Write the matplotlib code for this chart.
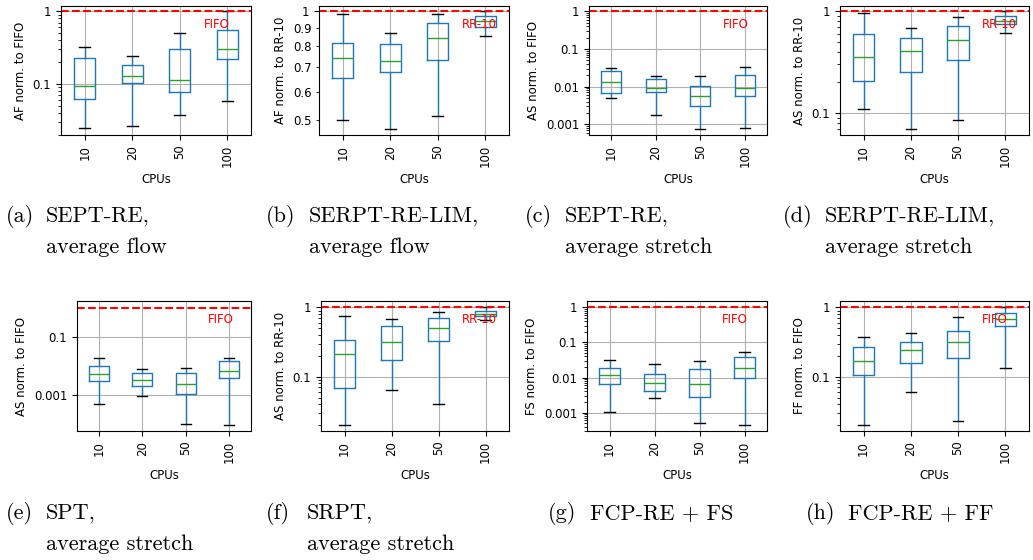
import numpy as np
import matplotlib
matplotlib.use("Agg")
import matplotlib.pyplot as plt
from matplotlib.ticker import FixedLocator, FuncFormatter, NullLocator, NullFormatter, LogLocator

cpus = ["10", "20", "50", "100"]

# five-number summaries per CPU count: low whisker, Q1, median, Q3, high whisker
a_lo = [0.0245, 0.0267, 0.037, 0.059]
a_q1 = [0.063, 0.102, 0.078, 0.223]
a_med = [0.093, 0.128, 0.114, 0.30]
a_q3 = [0.225, 0.185, 0.306, 0.55]
a_hi = [0.32, 0.24, 0.50, 1.0]

b_lo = [0.501, 0.475, 0.515, 0.857]
b_q1 = [0.655, 0.681, 0.734, 0.907]
b_med = [0.745, 0.731, 0.843, 0.943]
b_q3 = [0.818, 0.815, 0.931, 0.973]
b_hi = [0.981, 0.873, 0.983, 1.0]

c_lo = [0.0051, 0.00173, 0.00077, 0.0008]
c_q1 = [0.00665, 0.0072, 0.0030, 0.00565]
c_med = [0.0136, 0.0092, 0.00577, 0.00903]
c_q3 = [0.026, 0.0163, 0.0104, 0.0204]
c_hi = [0.0319, 0.0192, 0.0192, 0.034]

d_lo = [0.1087, 0.0701, 0.0847, 0.617]
d_q1 = [0.206, 0.253, 0.332, 0.75]
d_med = [0.356, 0.404, 0.519, 0.803]
d_q3 = [0.598, 0.551, 0.712, 0.90]
d_hi = [0.956, 0.691, 0.873, 1.0]

e_lo = [0.000465, 0.000877, 0.0001, 0.00009]
e_q1 = [0.00296, 0.00194, 0.00108, 0.00385]
e_med = [0.00502, 0.00312, 0.00233, 0.00655]
e_q3 = [0.0100, 0.00558, 0.00558, 0.0145]
e_hi = [0.0184, 0.00768, 0.0081, 0.0184]

f_lo = [0.0201, 0.0643, 0.0408, 0.65]
f_q1 = [0.0687, 0.172, 0.327, 0.742]
f_med = [0.215, 0.316, 0.509, 0.793]
f_q3 = [0.342, 0.532, 0.702, 0.885]
f_hi = [0.75, 0.686, 0.857, 1.0]

g_lo = [0.00107, 0.00261, 0.000496, 0.000444]
g_q1 = [0.00669, 0.00404, 0.00279, 0.0097]
g_med = [0.01156, 0.00714, 0.00655, 0.0191]
g_q3 = [0.0187, 0.0126, 0.0171, 0.0385]
g_hi = [0.0323, 0.0238, 0.0296, 0.0534]

h_lo = [0.0201, 0.0608, 0.023, 0.132]
h_q1 = [0.106, 0.159, 0.188, 0.544]
h_med = [0.168, 0.242, 0.313, 0.687]
h_q3 = [0.265, 0.316, 0.461, 0.829]
h_hi = [0.369, 0.422, 0.726, 1.0]

ylabels = ["AF norm. to FIFO", "AF norm. to RR-10", "AS norm. to FIFO", "AS norm. to RR-10",
           "AS norm. to FIFO", "AS norm. to RR-10", "FS norm. to FIFO", "FF norm. to FIFO"]
refs = ["FIFO", "RR-10", "FIFO", "RR-10", "FIFO", "RR-10", "FIFO", "FIFO"]
tags = ["(a)", "(b)", "(c)", "(d)", "(e)", "(f)", "(g)", "(h)"]
cap_line1 = ["SEPT-RE,", "SERPT-RE-LIM,", "SEPT-RE,", "SERPT-RE-LIM,",
             "SPT,", "SRPT,", "FCP-RE + FS", "FCP-RE + FF"]
cap_line2 = ["average flow", "average flow", "average stretch", "average stretch",
             "average stretch", "average stretch", "", ""]

stats = [
    (a_lo, a_q1, a_med, a_q3, a_hi), (b_lo, b_q1, b_med, b_q3, b_hi),
    (c_lo, c_q1, c_med, c_q3, c_hi), (d_lo, d_q1, d_med, d_q3, d_hi),
    (e_lo, e_q1, e_med, e_q3, e_hi), (f_lo, f_q1, f_med, f_q3, f_hi),
    (g_lo, g_q1, g_med, g_q3, g_hi), (h_lo, h_q1, h_med, h_q3, h_hi),
]

ylims = [(0.0199, 1.18), (0.456, 1.034), (0.00052, 1.386), (0.0608, 1.128),
         (5.6e-5, 1.70), (0.01645, 1.234), (0.0003, 1.51), (0.01645, 1.234)]
majors = [[0.1, 1], [1], [0.001, 0.01, 0.1, 1], [0.1, 1],
          [0.001, 0.1], [0.1, 1], [0.001, 0.01, 0.1, 1], [0.1, 1]]

W, H = 1033, 560
# axes boxes in pixels: left, right, top, bottom
boxes = [(61, 251, 6, 135), (319, 509, 6, 135), (589, 767, 6, 135), (840, 1029, 6, 135),
         (77, 251, 301, 431), (321, 509, 301, 431), (587, 767, 301, 431), (840, 1029, 301, 431)]
# caption anchors: tag x, body x, baseline of first line
cap_pos = [(6, 46, 222), (266, 309, 222), (525, 565, 222), (783, 825, 222),
           (6, 46, 519), (266, 307, 519), (548, 590, 519), (806, 848, 519)]
line_gap = 31

fig = plt.figure(figsize=(W / 100, H / 100), dpi=100)
fs = 8.5
fmt = FuncFormatter(lambda v, _: f"{v:g}")

for i in range(8):
    l, r, t, b = boxes[i]
    ax = fig.add_axes([l / W, 1 - b / H, (r - l) / W, (b - t) / H])
    lo, q1, med, q3, hi = stats[i]
    bstats = [dict(whislo=lo[k], q1=q1[k], med=med[k], q3=q3[k], whishi=hi[k], fliers=[])
              for k in range(len(cpus))]
    ax.bxp(bstats, showfliers=False,
           boxprops=dict(color="#1f77b4"), whiskerprops=dict(color="#1f77b4"),
           capprops=dict(color="k"), medianprops=dict(color="#2ca02c"))
    ax.set_yscale("log")
    ax.set_ylim(*ylims[i])
    ax.axhline(1, color="red", linestyle="--", linewidth=1.5)
    ax.text(0.75, 0.858, refs[i], color="red", fontsize=fs, transform=ax.transAxes,
            ha="left", va="center")
    ax.yaxis.set_major_locator(FixedLocator(majors[i]))
    ax.yaxis.set_major_formatter(fmt)
    if i == 1:
        ax.yaxis.set_minor_locator(FixedLocator([0.5, 0.6, 0.7, 0.8, 0.9]))
        ax.yaxis.set_minor_formatter(fmt)
    elif i == 4:
        ax.yaxis.set_minor_locator(NullLocator())
        ax.yaxis.set_minor_formatter(NullFormatter())
    else:
        ax.yaxis.set_minor_locator(LogLocator(subs=np.arange(2, 10)))
        ax.yaxis.set_minor_formatter(NullFormatter())
    ax.set_xticks(range(1, len(cpus) + 1))
    ax.set_xticklabels(cpus, rotation=90)
    ax.tick_params(labelsize=fs, which="both")
    ax.grid(True, which="major")
    ax.set_xlabel("CPUs", fontsize=fs)
    ax.set_ylabel(ylabels[i], fontsize=fs)

    tx, bx, by = cap_pos[i]
    fig.text(tx / W, 1 - by / H, tags[i], fontsize=16, family="cmr10", ha="left", va="baseline")
    fig.text(bx / W, 1 - by / H, cap_line1[i], fontsize=16, family="cmr10", ha="left", va="baseline")
    if cap_line2[i]:
        fig.text(bx / W, 1 - (by + line_gap) / H, cap_line2[i], fontsize=16, family="cmr10",
                 ha="left", va="baseline")

fig.savefig("out.png", dpi=100)
